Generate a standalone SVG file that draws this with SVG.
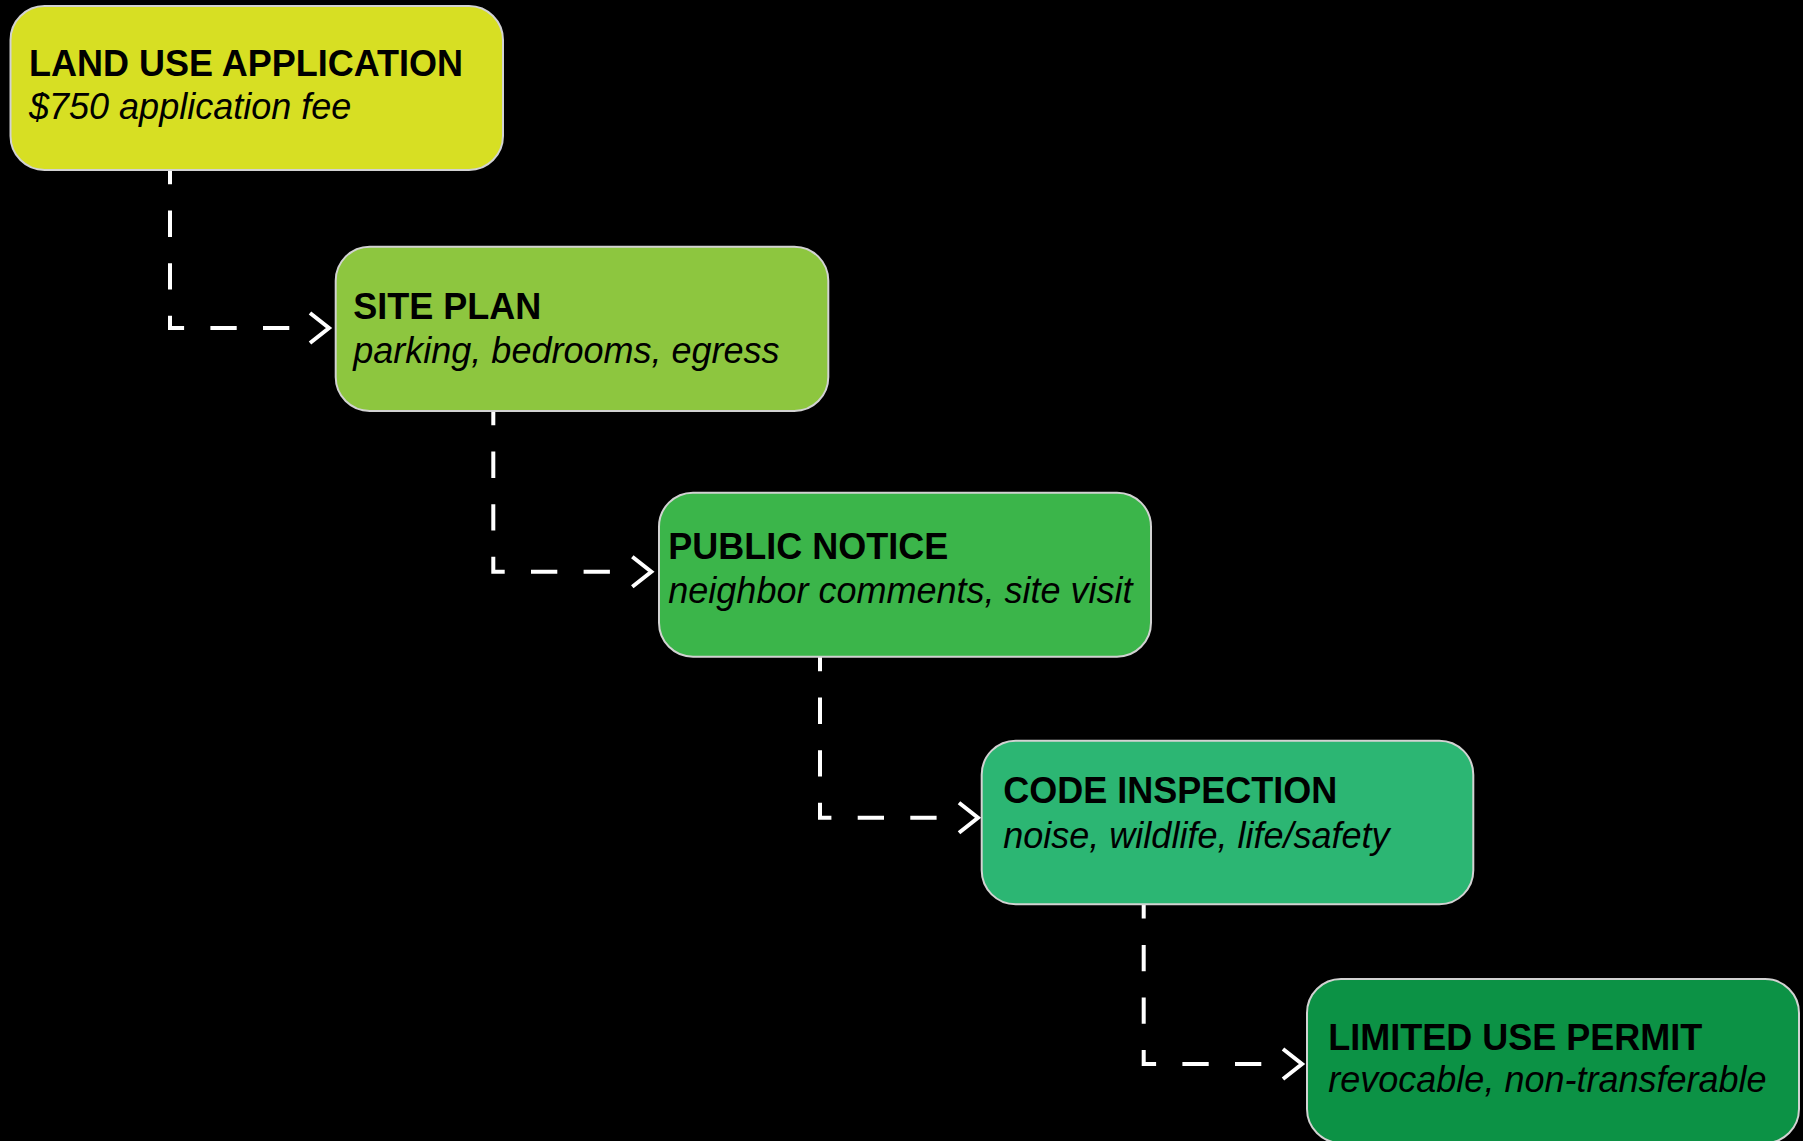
<svg xmlns="http://www.w3.org/2000/svg" width="1803" height="1141" viewBox="0 0 1803 1141">
  <style>
    .box { stroke: #d2d2d2; stroke-width: 2; }
    .title { font-family: "Liberation Sans", Arial, sans-serif; font-weight: bold; font-size: 36px; fill: #000; }
    .sub { font-family: "Liberation Sans", Arial, sans-serif; font-style: italic; font-size: 36px; fill: #000; }
    .link { fill: none; stroke: #fff; stroke-width: 4; stroke-dasharray: 26.3 26.3; stroke-dashoffset: 12; }
    .chev { fill: none; stroke: #fff; stroke-width: 4; stroke-linejoin: miter; }
  </style>
  <rect width="1803" height="1141" fill="#000"/>

  <!-- dashed elbow connectors with open chevron heads -->
  <g id="connectors">
    <path class="link" d="M170,170 V328 H300"/>
    <path class="chev" d="M310,313 L329,328 L310,343"/>
    <path class="link" d="M493.3,411 V571.7 H622"/>
    <path class="chev" d="M632.3,556.7 L651.3,571.7 L632.3,586.7"/>
    <path class="link" d="M820,657 V817.7 H948"/>
    <path class="chev" d="M959,802.7 L978,817.7 L959,832.7"/>
    <path class="link" d="M1143.7,904.3 V1064 H1272"/>
    <path class="chev" d="M1283,1049 L1302,1064 L1283,1079"/>
  </g>

  <g id="land-use-application">
    <rect class="box" x="10.5" y="6" width="492.5" height="164" rx="34" fill="#D7DF23"/>
    <text class="title" x="29" y="76">LAND USE APPLICATION</text>
    <text class="sub" x="29" y="119">$750 application fee</text>
  </g>

  <g id="site-plan">
    <rect class="box" x="335.7" y="246.7" width="492.6" height="164.3" rx="34" fill="#8DC63F"/>
    <text class="title" x="353.3" y="319.3">SITE PLAN</text>
    <text class="sub" x="353.3" y="363.3">parking, bedrooms, egress</text>
  </g>

  <g id="public-notice">
    <rect class="box" x="659" y="492.7" width="492" height="164" rx="34" fill="#3BB54A"/>
    <text class="title" x="668.3" y="559.3">PUBLIC NOTICE</text>
    <text class="sub" x="668.3" y="602.7">neighbor comments, site visit</text>
  </g>

  <g id="code-inspection">
    <rect class="box" x="981.7" y="740.7" width="491.6" height="163.6" rx="34" fill="#2CB673"/>
    <text class="title" x="1003.3" y="803.3">CODE INSPECTION</text>
    <text class="sub" x="1003.3" y="847.7">noise, wildlife, life/safety</text>
  </g>

  <g id="limited-use-permit">
    <rect class="box" x="1307" y="979" width="492" height="164" rx="34" fill="#0C9245"/>
    <text class="title" x="1328.3" y="1050">LIMITED USE PERMIT</text>
    <text class="sub" x="1328.3" y="1092.3">revocable, non-transferable</text>
  </g>
</svg>
